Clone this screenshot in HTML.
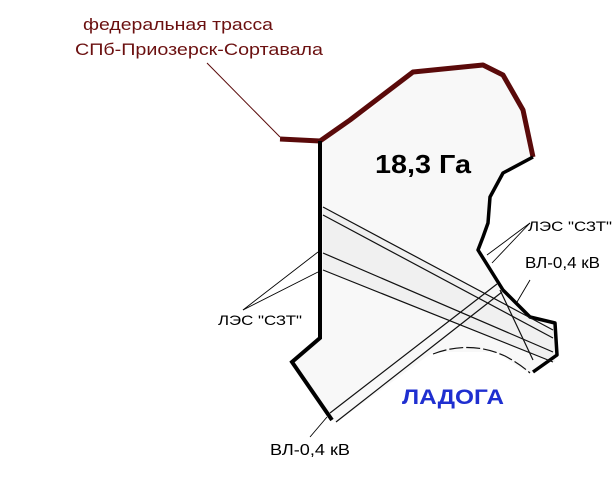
<!DOCTYPE html>
<html><head><meta charset="utf-8"><style>
html,body{margin:0;padding:0;background:#fff;}
svg{display:block}
text{font-family:"Liberation Sans","DejaVu Sans",sans-serif;}
</style></head><body>
<svg width="616" height="503" viewBox="0 0 616 503" xmlns="http://www.w3.org/2000/svg">
<!-- light fill of plot -->
<path d="M320,140 L370,110 L413,72 L483,65 L503,75 L523,110 L533,157 L503,173 L490,197 L488,223 L483,237 L478,250 L503,290 L530,317 L555,323 L557,355 L533,372 L527,372 L495,352 L433,352 L337,422 L332,420 L292,362 L320,338 Z" fill="#f8f8f8"/>
<path d="M323,207 L553,332 L555,362 L323,270 Z" fill="#ececec" opacity="0.7"/>
<!-- road -->
<path d="M280,139 L320,141 L350,120 L413,72 L483,65 L503,75 L523,110 L533,157" fill="none" stroke="#5a0a0a" stroke-width="5" stroke-linejoin="round"/>
<line x1="207" y1="63" x2="280" y2="137" stroke="#5a0a0a" stroke-width="1"/>
<!-- black boundary -->
<path d="M320,141 L320,338 L292,362 L332,420" fill="none" stroke="#000" stroke-width="4"/>
<path d="M533,157 L503,173 L490,197 L488,223 L483,237 L478,250 L503,290 L530,317 L555,323 L557,355 L533,372" fill="none" stroke="#000" stroke-width="3.5" stroke-linejoin="round"/>
<!-- LES bands -->
<g stroke="#111" stroke-width="1.2" fill="none">
<line x1="323" y1="207" x2="553" y2="330"/>
<line x1="323" y1="215" x2="553" y2="338"/>
<line x1="323" y1="253" x2="553" y2="352"/>
<line x1="323" y1="270" x2="553" y2="362"/>
<!-- VL -->
<line x1="330" y1="413" x2="497" y2="284"/>
<line x1="336" y1="422" x2="502" y2="292"/>
<line x1="500" y1="290" x2="533" y2="360"/>
<!-- lake shore -->
<path d="M433,354 Q470,340 505,356 Q520,364 530,373" stroke-dasharray="14,3"/>
</g>
<!-- leaders -->
<g stroke="#000" stroke-width="0.9">
<line x1="243" y1="310" x2="318" y2="252"/>
<line x1="243" y1="310" x2="318" y2="272"/>
<line x1="530" y1="223" x2="487" y2="255"/>
<line x1="530" y1="223" x2="492" y2="263"/>
<line x1="530" y1="280" x2="517" y2="302"/>
<line x1="310" y1="437" x2="327" y2="417"/>
</g>
<!-- labels -->
<text x="83" y="30" font-size="17" fill="#6b1010" textLength="190" lengthAdjust="spacingAndGlyphs">федеральная трасса</text>
<text x="75" y="55" font-size="17" fill="#6b1010" textLength="248" lengthAdjust="spacingAndGlyphs">СПб-Приозерск-Сортавала</text>
<text x="375" y="173" font-size="26" font-weight="bold" fill="#000" textLength="96" lengthAdjust="spacingAndGlyphs">18,3 Га</text>
<text x="218" y="325" font-size="14" fill="#000" textLength="84" lengthAdjust="spacingAndGlyphs">ЛЭС "СЗТ"</text>
<text x="528" y="231" font-size="14" fill="#000" textLength="84" lengthAdjust="spacingAndGlyphs">ЛЭС "СЗТ"</text>
<text x="525" y="268" font-size="16" fill="#000" textLength="75" lengthAdjust="spacingAndGlyphs">ВЛ-0,4 кВ</text>
<text x="270" y="455" font-size="16" fill="#000" textLength="80" lengthAdjust="spacingAndGlyphs">ВЛ-0,4 кВ</text>
<text x="402" y="404" font-size="21" font-weight="bold" fill="#1f2fd0" textLength="102" lengthAdjust="spacingAndGlyphs">ЛАДОГА</text>
</svg>
</body></html>
